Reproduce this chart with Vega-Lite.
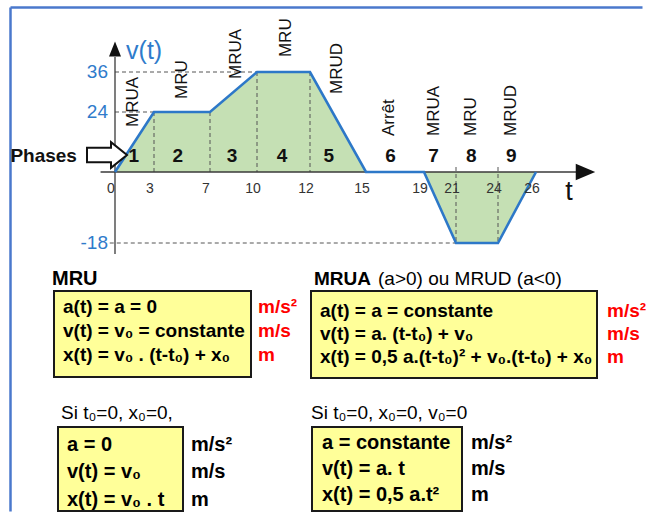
{
  "$schema": "https://vega.github.io/schema/vega-lite/v6.json",
  "background": "white",
  "padding": {"left": 10, "top": 7, "right": 0, "bottom": 0},
  "bounds": "flush",
  "spacing": 0,
  "config": {"view": {"stroke": null}, "text": {"font": "Liberation Sans"}},
  "datasets": {
    "profile": [
      {"t": 0, "v": 0}, {"t": 3, "v": 24}, {"t": 7, "v": 24}, {"t": 10, "v": 36}, {"t": 12, "v": 36},
      {"t": 15, "v": 0}, {"t": 19, "v": 0}, {"t": 21, "v": -18}, {"t": 24, "v": -18}, {"t": 26, "v": 0}
    ],
    "dashes": [
      {"t": 0, "t2": 10, "v": 36, "v2": 36}, {"t": 0, "t2": 3, "v": 24, "v2": 24}, {"t": -0.4, "t2": 21, "v": -18, "v2": -18},
      {"t": 3, "t2": 3, "v": 24, "v2": 0}, {"t": 7, "t2": 7, "v": 24, "v2": 0}, {"t": 10, "t2": 10, "v": 36, "v2": 0},
      {"t": 12, "t2": 12, "v": 36, "v2": 0}, {"t": 21, "t2": 21, "v": 2, "v2": -18}, {"t": 24, "t2": 24, "v": 2, "v2": -18}
    ],
    "axislines": [
      {"t": -1.1, "t2": 28.3, "v": 0, "v2": 0}, {"t": 0, "t2": 0, "v": -20.8, "v2": 40.6}
    ],
    "tticks": [
      {"t": 0, "v": 0, "text": "0"}, {"t": 3, "v": 0, "text": "3"}, {"t": 7, "v": 0, "text": "7"}, {"t": 10, "v": 0, "text": "10"},
      {"t": 12, "v": 0, "text": "12"}, {"t": 15, "v": 0, "text": "15"}, {"t": 19, "v": 0, "text": "19"}, {"t": 21, "v": 0, "text": "21"},
      {"t": 24, "v": 0, "text": "24"}, {"t": 26, "v": 0, "text": "26"}
    ],
    "vticks": [
      {"t": 0, "v": 36, "text": "36"}, {"t": 0, "v": 24, "text": "24"}, {"t": 0, "v": -18, "text": "-18"}
    ],
    "phasenames": [
      {"t": 1.35, "v": 18, "text": "MRUA"}, {"t": 5.0, "v": 27.9, "text": "MRU"}, {"t": 8.66, "v": 33.9, "text": "MRUA"},
      {"t": 11.1, "v": 40.6, "text": "MRU"}, {"t": 13.45, "v": 29.4, "text": "MRUD"}, {"t": 16.6, "v": 14.4, "text": "Arrêt"},
      {"t": 19.6, "v": 14.4, "text": "MRUA"}, {"t": 22.1, "v": 14.4, "text": "MRU"}, {"t": 24.7, "v": 14.4, "text": "MRUD"}
    ],
    "phasenums": [
      {"t": 1.45, "v": 6.4, "text": "1"}, {"t": 4.7, "v": 6.4, "text": "2"}, {"t": 8.4, "v": 6.4, "text": "3"},
      {"t": 10.94, "v": 6.4, "text": "4"}, {"t": 13.0, "v": 6.4, "text": "5"}, {"t": 16.7, "v": 6.4, "text": "6"},
      {"t": 19.6, "v": 6.4, "text": "7"}, {"t": 22.1, "v": 6.4, "text": "8"}, {"t": 24.7, "v": 6.4, "text": "9"}
    ],
    "box1": [
      {"line": 0, "col": "t", "text": "MRU"},
      {"line": 1, "col": "f", "text": "a(t) = a = 0"},
      {"line": 2, "col": "f", "text": "v(t) = v₀ = constante"},
      {"line": 3, "col": "f", "text": "x(t) = v₀ . (t-t₀) + x₀"},
      {"line": 1, "col": "u", "text": "m/s²"},
      {"line": 2, "col": "u", "text": "m/s"},
      {"line": 3, "col": "u", "text": "m"}
    ],
    "box2": [
      {"line": 0, "col": "t", "text": "MRUA"},
      {"line": 0, "col": "t2", "text": "(a>0) ou MRUD (a<0)"},
      {"line": 1, "col": "f", "text": "a(t) = a = constante"},
      {"line": 2, "col": "f", "text": "v(t) = a. (t-t₀)  + v₀"},
      {"line": 3, "col": "f", "text": "x(t) = 0,5 a.(t-t₀)² + v₀.(t-t₀) + x₀"},
      {"line": 1, "col": "u", "text": "m/s²"},
      {"line": 2, "col": "u", "text": "m/s"},
      {"line": 3, "col": "u", "text": "m"}
    ],
    "box3": [
      {"line": 0, "col": "t", "text": "Si t₀=0, x₀=0,"},
      {"line": 1, "col": "f", "text": "a = 0"},
      {"line": 2, "col": "f", "text": "v(t) = v₀"},
      {"line": 3, "col": "f", "text": "x(t) = v₀ . t"},
      {"line": 1, "col": "u", "text": "m/s²"},
      {"line": 2, "col": "u", "text": "m/s"},
      {"line": 3, "col": "u", "text": "m"}
    ],
    "box4": [
      {"line": 0, "col": "t", "text": "Si t₀=0, x₀=0, v₀=0"},
      {"line": 1, "col": "f", "text": "a = constante"},
      {"line": 2, "col": "f", "text": "v(t) = a. t"},
      {"line": 3, "col": "f", "text": "x(t) = 0,5 a.t²"},
      {"line": 1, "col": "u", "text": "m/s²"},
      {"line": 2, "col": "u", "text": "m/s"},
      {"line": 3, "col": "u", "text": "m"}
    ]
  },
  "vconcat": [
    {
      "width": 633,
      "height": 284,
      "encoding": {
        "x": {
          "field": "t", "type": "quantitative",
          "scale": {"domain": [-8, 0, 3, 7, 10, 12, 15, 19, 21, 24, 26, 32], "range": [0, 105, 144, 200, 247, 300, 356, 414, 446, 488, 526, 632], "nice": false, "zero": false},
          "axis": {"orient": "top", "domain": true, "domainColor": "#4A78CC", "domainWidth": 2.5, "ticks": false, "labels": false, "grid": false, "title": null}
        },
        "y": {
          "field": "v", "type": "quantitative",
          "scale": {"domain": [-86, -18, 0, 24, 36, 56], "range": [504, 236, 165, 105, 65, 0], "nice": false, "zero": false},
          "axis": {"orient": "left", "domain": true, "domainColor": "#4A78CC", "domainWidth": 2.5, "ticks": false, "labels": false, "grid": false, "title": null}
        }
      },
      "layer": [
        {"data": {"name": "profile"}, "mark": {"type": "area", "color": "#C5E0B4", "opacity": 1}, "encoding": {"y2": {"datum": 0}}},
        {"data": {"name": "dashes"}, "mark": {"type": "rule", "color": "#555555", "strokeWidth": 1, "strokeDash": [4, 3]}, "encoding": {"x2": {"field": "t2"}, "y2": {"field": "v2"}}},
        {"data": {"name": "axislines"}, "mark": {"type": "rule", "color": "#3a3a3a", "strokeWidth": 1.3}, "encoding": {"x2": {"field": "t2"}, "y2": {"field": "v2"}}},
        {"data": {"name": "profile"}, "mark": {"type": "line", "color": "#2D78C8", "strokeWidth": 2.6}},
        {"data": {"values": [{"t": 28.8, "v": 0}]}, "mark": {"type": "point", "shape": "M1,0L-1,-0.85L-1,0.85Z", "filled": true, "color": "#111111", "size": 380, "opacity": 1}},
        {"data": {"values": [{"t": 0, "v": 43.1}]}, "mark": {"type": "point", "shape": "M0,-1L0.8,1L-0.8,1Z", "filled": true, "color": "#111111", "size": 225, "opacity": 1}},
        {"data": {"values": [{"t": -0.61, "v": 6.8}]}, "mark": {"type": "point", "shape": "M-1,-0.36L0.2,-0.36L0.2,-0.64L1,0L0.2,0.64L0.2,0.36L-1,0.36Z", "filled": true, "fill": "white", "stroke": "#111111", "strokeWidth": 2, "size": 1600, "opacity": 1}},
        {"data": {"name": "tticks"}, "mark": {"type": "text", "dy": 17, "dx": -4, "fontSize": 14, "color": "#333333", "baseline": "middle"}, "encoding": {"text": {"field": "text"}}},
        {"data": {"name": "vticks"}, "mark": {"type": "text", "align": "right", "dx": -7, "baseline": "middle", "fontSize": 19, "color": "#2F7BCB"}, "encoding": {"text": {"field": "text"}}},
        {"data": {"name": "phasenames"}, "mark": {"type": "text", "angle": 270, "align": "left", "baseline": "middle", "fontSize": 17, "color": "#111111"}, "encoding": {"text": {"field": "text"}}},
        {"data": {"name": "phasenums"}, "mark": {"type": "text", "fontSize": 19, "fontWeight": "bold", "baseline": "middle", "color": "#111111"}, "encoding": {"text": {"field": "text"}}},
        {"data": {"values": [{"t": -2.9, "v": 6.4, "text": "Phases"}]}, "mark": {"type": "text", "align": "right", "baseline": "middle", "fontSize": 19, "fontWeight": "bold", "color": "#111111"}, "encoding": {"text": {"field": "text"}}},
        {"data": {"values": [{"t": 0.85, "v": 42.5, "text": "v(t)"}]}, "mark": {"type": "text", "align": "left", "baseline": "middle", "fontSize": 25, "color": "#2F7BCB"}, "encoding": {"text": {"field": "text"}}},
        {"data": {"values": [{"t": 27.87, "v": -5.1, "text": "t"}]}, "mark": {"type": "text", "baseline": "middle", "fontSize": 27, "color": "#111111"}, "encoding": {"text": {"field": "text"}}}
      ]
    },
    {
      "spacing": 136,
      "bounds": "flush",
      "vconcat": [
        {
          "spacing": 0,
          "bounds": "flush",
          "hconcat": [
            {"width": 44, "height": 10, "data": {"values": [{"s": 0}]}, "mark": {"type": "point", "opacity": 0}},
            {
              "width": 197, "height": 86,
              "view": {"fill": "#FFFF99", "stroke": "#1a1a1a", "strokeWidth": 2},
              "data": {"name": "box1"},
              "encoding": {
                "x": {"datum": 0, "type": "quantitative", "scale": {"domain": [0, 1]}, "axis": null},
                "y": {"field": "line", "type": "quantitative", "scale": {"domain": [0.3333, 3.9167], "reverse": true, "nice": false, "zero": false}, "axis": null},
                "text": {"field": "text"}
              },
              "layer": [
                {"transform": [{"filter": "datum.col == 'f'"}], "mark": {"type": "text", "align": "left", "baseline": "middle", "dx": 9, "fontSize": 19, "fontWeight": "bold", "color": "#000000"}},
                {"transform": [{"filter": "datum.col == 't'"}], "mark": {"type": "text", "align": "left", "baseline": "middle", "dx": -2, "dy": -4, "fontSize": 20, "fontWeight": "bold", "color": "#000000"}}
              ]
            },
            {
              "width": 60, "height": 86,
              "data": {"name": "box1"},
              "transform": [{"filter": "datum.col == 'u'"}],
              "mark": {"type": "text", "align": "left", "baseline": "middle", "dx": 7, "fontSize": 19, "fontWeight": "bold", "color": "#FF0000"},
              "encoding": {
                "x": {"datum": 0, "type": "quantitative", "scale": {"domain": [0, 1]}, "axis": null},
                "y": {"field": "line", "type": "quantitative", "scale": {"domain": [0.3333, 3.9167], "reverse": true, "nice": false, "zero": false}, "axis": null},
                "text": {"field": "text"}
              }
            },
            {
              "width": 286, "height": 87,
              "view": {"fill": "#FFFF99", "stroke": "#1a1a1a", "strokeWidth": 2},
              "data": {"name": "box2"},
              "encoding": {
                "x": {"datum": 0, "type": "quantitative", "scale": {"domain": [0, 1]}, "axis": null},
                "y": {"field": "line", "type": "quantitative", "scale": {"domain": [0.1304, 3.913], "reverse": true, "nice": false, "zero": false}, "axis": null},
                "text": {"field": "text"}
              },
              "layer": [
                {"transform": [{"filter": "datum.col == 'f'"}], "mark": {"type": "text", "align": "left", "baseline": "middle", "dx": 9, "fontSize": 19, "fontWeight": "bold", "color": "#000000"}},
                {"transform": [{"filter": "datum.col == 't'"}], "mark": {"type": "text", "align": "left", "baseline": "middle", "dx": 3, "dy": -9, "fontSize": 19, "fontWeight": "bold", "color": "#000000"}},
                {"transform": [{"filter": "datum.col == 't2'"}], "mark": {"type": "text", "align": "left", "baseline": "middle", "dx": 67, "dy": -9, "fontSize": 19, "fontWeight": "normal", "color": "#000000"}}
              ]
            },
            {
              "width": 40, "height": 87,
              "data": {"name": "box2"},
              "transform": [{"filter": "datum.col == 'u'"}],
              "mark": {"type": "text", "align": "left", "baseline": "middle", "dx": 10, "fontSize": 19, "fontWeight": "bold", "color": "#FF0000"},
              "encoding": {
                "x": {"datum": 0, "type": "quantitative", "scale": {"domain": [0, 1]}, "axis": null},
                "y": {"field": "line", "type": "quantitative", "scale": {"domain": [0.1304, 3.913], "reverse": true, "nice": false, "zero": false}, "axis": null},
                "text": {"field": "text"}
              }
            }
          ]
        },
        {
          "spacing": 0,
          "bounds": "flush",
          "hconcat": [
            {"width": 48, "height": 10, "data": {"values": [{"s": 0}]}, "mark": {"type": "point", "opacity": 0}},
            {
              "width": 125, "height": 84,
              "view": {"fill": "#FFFF99", "stroke": "#1a1a1a", "strokeWidth": 2},
              "data": {"name": "box3"},
              "encoding": {
                "x": {"datum": 0, "type": "quantitative", "scale": {"domain": [0, 1]}, "axis": null},
                "y": {"field": "line", "type": "quantitative", "scale": {"domain": [0.3455, 3.4], "reverse": true, "nice": false, "zero": false}, "axis": null},
                "text": {"field": "text"}
              },
              "layer": [
                {"transform": [{"filter": "datum.col == 'f'"}], "mark": {"type": "text", "align": "left", "baseline": "middle", "dx": 9, "fontSize": 20, "fontWeight": "bold", "color": "#000000"}},
                {"transform": [{"filter": "datum.col == 't'"}], "mark": {"type": "text", "align": "left", "baseline": "middle", "dx": 3, "dy": -4.5, "fontSize": 19, "fontWeight": "normal", "color": "#000000"}}
              ]
            },
            {
              "width": 129, "height": 84,
              "data": {"name": "box3"},
              "transform": [{"filter": "datum.col == 'u'"}],
              "mark": {"type": "text", "align": "left", "baseline": "middle", "dx": 8, "fontSize": 20, "fontWeight": "bold", "color": "#000000"},
              "encoding": {
                "x": {"datum": 0, "type": "quantitative", "scale": {"domain": [0, 1]}, "axis": null},
                "y": {"field": "line", "type": "quantitative", "scale": {"domain": [0.3455, 3.4], "reverse": true, "nice": false, "zero": false}, "axis": null},
                "text": {"field": "text"}
              }
            },
            {
              "width": 150, "height": 84,
              "view": {"fill": "#FFFF99", "stroke": "#1a1a1a", "strokeWidth": 2},
              "data": {"name": "box4"},
              "encoding": {
                "x": {"datum": 0, "type": "quantitative", "scale": {"domain": [0, 1]}, "axis": null},
                "y": {"field": "line", "type": "quantitative", "scale": {"domain": [0.3846, 3.615], "reverse": true, "nice": false, "zero": false}, "axis": null},
                "text": {"field": "text"}
              },
              "layer": [
                {"transform": [{"filter": "datum.col == 'f'"}], "mark": {"type": "text", "align": "left", "baseline": "middle", "dx": 10, "fontSize": 20, "fontWeight": "bold", "color": "#000000"}},
                {"transform": [{"filter": "datum.col == 't'"}], "mark": {"type": "text", "align": "left", "baseline": "middle", "dx": -1, "dy": -4, "fontSize": 19, "fontWeight": "normal", "color": "#000000"}}
              ]
            },
            {
              "width": 40, "height": 84,
              "data": {"name": "box4"},
              "transform": [{"filter": "datum.col == 'u'"}],
              "mark": {"type": "text", "align": "left", "baseline": "middle", "dx": 9, "fontSize": 20, "fontWeight": "bold", "color": "#000000"},
              "encoding": {
                "x": {"datum": 0, "type": "quantitative", "scale": {"domain": [0, 1]}, "axis": null},
                "y": {"field": "line", "type": "quantitative", "scale": {"domain": [0.3846, 3.615], "reverse": true, "nice": false, "zero": false}, "axis": null},
                "text": {"field": "text"}
              }
            }
          ]
        }
      ]
    }
  ]
}
